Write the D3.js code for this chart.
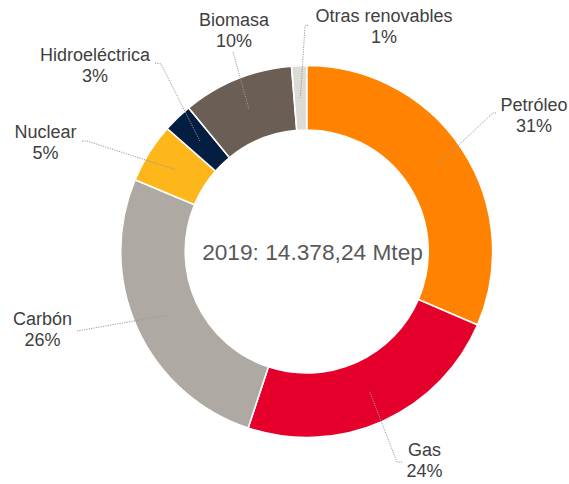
<!DOCTYPE html>
<html>
<head>
<meta charset="utf-8">
<script src="https://cdn.jsdelivr.net/npm/d3@7"></script>
<style>
  body { margin: 0; background: #fff; }
  text { font-family: "Liberation Sans", Arial, sans-serif; }
</style>
</head>
<body>
<div id="wrapper"></div>
<script>
// data (shares in %)
const categories = ['Petróleo', 'Gas', 'Carbón', 'Nuclear', 'Hidroeléctrica', 'Biomasa', 'Otras renovables']
const shares = [31.46, 23.64, 26.2, 5.2, 2.55, 9.65, 1.3]
const shareLabels = ['31%', '24%', '26%', '5%', '3%', '10%', '1%']
const colors = ['#ff8300', '#e4002b', '#afa9a4', '#fdb71a', '#041e42', '#6b5e55', '#dddbd6']
const centerLabel = '2019: 14.378,24 Mtep'

// label layout: text centre x, first baseline y, leader start, elbow
const labelPos = [
  [534, 110.5, [496, 113], [493, 113]],
  [424.5, 456, [402, 462], [397, 462]],
  [42.5, 325, [77, 331], [77, 331]],
  [45.5, 137.5, [82, 141], [87, 141]],
  [95, 60.5, [155, 63], [161, 64]],
  [234, 25.5, [233, 52], [233, 52]],
  [384, 21.5, [308, 25], [305, 26]]
]

async function drawChart() {

  const dimensions = {
    width: 569,
    height: 484,
    cx: 306.7,
    cy: 251.5,
    outer: 186,
    inner: 121.5
  }

  const svg = d3.select('#wrapper')
    .append('svg')
      .attr('width', dimensions.width)
      .attr('height', dimensions.height)

  const data = categories.map((c, i) => ({ name: c, value: shares[i], label: shareLabels[i], color: colors[i], pos: labelPos[i] }))

  const pie = d3.pie()
    .value(d => d.value)
    .sort(null)

  const arc = d3.arc()
    .innerRadius(dimensions.inner)
    .outerRadius(dimensions.outer)

  const centroidArc = d3.arc()
    .innerRadius((dimensions.inner + dimensions.outer) / 2)
    .outerRadius((dimensions.inner + dimensions.outer) / 2)

  const arcs = pie(data)

  const donut = svg.append('g')
    .attr('transform', `translate(${dimensions.cx},${dimensions.cy})`)

  donut.selectAll('path.slice')
    .data(arcs)
    .enter().append('path')
      .attr('class', 'slice')
      .attr('d', arc)
      .attr('fill', d => d.data.color)
      .attr('stroke', '#fff')
      .attr('stroke-width', 1.6)

  // leader lines
  const line = d3.line()
  svg.selectAll('path.leader')
    .data(arcs)
    .enter().append('path')
      .attr('class', 'leader')
      .attr('d', d => {
        const c = centroidArc.centroid(d)
        const p = d.data.pos
        return line([p[2], p[3], [c[0] + dimensions.cx, c[1] + dimensions.cy]])
      })
      .attr('fill', 'none')
      .attr('stroke', '#9a9a9a')
      .attr('stroke-width', 1)
      .attr('stroke-dasharray', '1.2,1.2')

  // labels
  const labels = svg.selectAll('text.label')
    .data(data)
    .enter().append('text')
      .attr('class', 'label')
      .attr('text-anchor', 'middle')
      .attr('fill', '#404040')
      .style('font-size', '18px')

  labels.append('tspan')
    .attr('x', d => d.pos[0])
    .attr('y', d => d.pos[1])
    .text(d => d.name)

  labels.append('tspan')
    .attr('x', d => d.pos[0])
    .attr('y', d => d.pos[1] + 21)
    .text(d => d.label)

  svg.append('text')
    .attr('x', dimensions.cx + 5.8)
    .attr('y', 260)
    .attr('text-anchor', 'middle')
    .attr('fill', '#595959')
    .style('font-size', '22.7px')
    .text(centerLabel)
}
drawChart()
</script>
</body>
</html>
